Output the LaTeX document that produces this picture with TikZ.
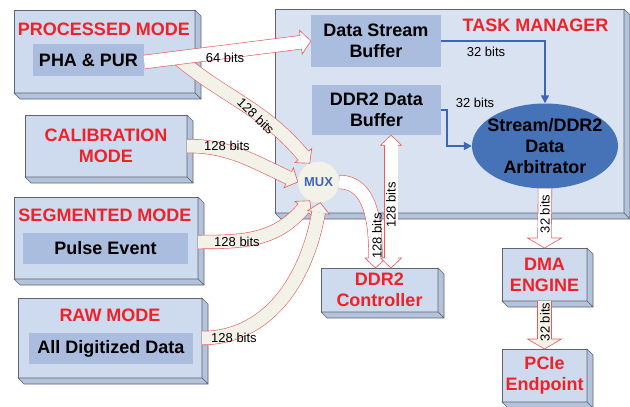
\documentclass[tikz,border=0pt]{standalone}
\usepackage{fontspec}
\setmainfont{Liberation Sans}
\usepackage{xcolor}
\usepackage{tikz}
\usetikzlibrary{arrows.meta, calc, shapes.geometric}

\definecolor{faceblue}{RGB}{206,218,237}
\definecolor{sideblue}{RGB}{180,195,220}
\definecolor{tmblue}{RGB}{216,226,240}
\definecolor{innerblue}{RGB}{170,189,222}
\definecolor{edgegray}{RGB}{95,100,112}
\definecolor{titlered}{RGB}{238,34,40}
\definecolor{arrowred}{RGB}{236,90,90}
\definecolor{cream}{RGB}{242,242,233}
\definecolor{arbblue}{RGB}{70,114,184}
\definecolor{lineblue}{RGB}{62,102,184}

\newcommand\bigbold{\bfseries\fontsize{18}{21}\selectfont}
\newcommand\boxdepth[1]{%
  \filldraw[sideface] (#1.north east) -- ++(6,-6) -- ($(#1.south east)+(6,-6)$) -- (#1.south east) -- cycle;
  \filldraw[sideface] (#1.south west) -- ++(6,-6) -- ($(#1.south east)+(6,-6)$) -- (#1.south east) -- cycle;}
\newcommand\fathead[4]{%
  \filldraw[arrowedge, fill=#4, shift={(#1)}, rotate=#2]
    (-10,6.8) -- (-10,#3) -- (0,0) -- (-10,-#3) -- (-10,-6.8);}

\begin{document}
\begin{tikzpicture}[x=1pt, y=1pt,
  modebox/.style={draw=edgegray, line width=0.7pt, fill=faceblue, inner sep=0pt, outer sep=0pt},
  sideface/.style={draw=edgegray, line width=0.7pt, fill=sideblue, line join=round},
  innerbox/.style={fill=innerblue, inner sep=0pt, font=\bigbold, align=center},
  redtitle/.style={text=titlered, font=\bigbold, align=center, inner sep=0pt},
  arrowedge/.style={draw=arrowred, line width=0.6pt, line join=miter},
  fatshaft/.style={draw=arrowred, line width=0.6pt, double=#1, double distance=13pt},
  bluearrow/.style={draw=lineblue, line width=1.6pt, -{Triangle[length=8pt, width=8pt]}},
  bitlabel/.style={font=\fontsize{13}{15}\selectfont, inner sep=0pt}]
\path[use as bounding box, fill=white] (0,0) rectangle (630,-407);

% task manager
\node[modebox, fill=tmblue, minimum width=349pt, minimum height=204pt] (tm) at (449.5,-111) {};
\boxdepth{tm}
\node[redtitle] (tmT) at (535.5,-25) {TASK MANAGER};
\node[innerbox, minimum width=130pt, minimum height=52pt] (dsb) at (376,-41) {Data Stream\\Buffer};
\node[innerbox, minimum width=129pt, minimum height=50pt] (ddb) at (376.5,-110) {DDR2 Data\\Buffer};
\node[ellipse, fill=arbblue, minimum width=146pt, minimum height=85pt, inner sep=0pt] (arb) at (545,-146) {};
\node[font=\bigbold, align=center, inner sep=0pt] (arbT) at (arb) {Stream/DDR2\\Data\\Arbitrator};
\node[circle, fill=cream, minimum size=41pt, inner sep=0pt, text=lineblue,
  font=\bfseries\fontsize{13}{15}\selectfont] (mux) at (318.5,-182) {MUX};

% modes
\node[modebox, minimum width=181pt, minimum height=83pt] (proc) at (104.5,-51.5) {};
\boxdepth{proc}
\node[redtitle] (procT) at (104,-29) {PROCESSED MODE};
\node[innerbox, minimum width=111pt, minimum height=32pt] (pha) at (88.5,-60) {PHA \& PUR};

\node[modebox, redtitle, minimum width=162pt, minimum height=62pt] (cal) at (106,-146) {CALIBRATION\\MODE};
\boxdepth{cal}

\node[modebox, minimum width=184pt, minimum height=82pt] (seg) at (106,-238) {};
\boxdepth{seg}
\node[redtitle] (segT) at (105,-215) {SEGMENTED MODE};
\node[innerbox, minimum width=165pt, minimum height=31pt] (pulse) at (105.5,-248.5) {Pulse Event};

\node[modebox, minimum width=184pt, minimum height=80pt] (raw) at (110,-338) {};
\boxdepth{raw}
\node[redtitle] (rawT) at (110,-315) {RAW MODE};
\node[innerbox, minimum width=164pt, minimum height=31pt] (alldata) at (111,-348.5) {All Digitized Data};

% outside blocks
\node[modebox, redtitle, minimum width=117pt, minimum height=44pt] (ctrl) at (379.5,-290) {DDR2\\Controller};
\boxdepth{ctrl}
\node[modebox, redtitle, minimum width=85pt, minimum height=53pt] (dma) at (544.5,-274.5) {DMA\\ENGINE};
\boxdepth{dma}
\node[modebox, redtitle, minimum width=85pt, minimum height=53pt] (pcie) at (544.5,-375.5) {PCIe\\Endpoint};
\boxdepth{pcie}

% fat arrows into the mux
\coordinate (phaout) at ([yshift=-2pt]pha.east);
\coordinate (phasplit) at ($(phaout)!0.2!(dsb.west)$);
\draw[fatshaft=cream] (phasplit) to[out=-40, in=130] ($(mux.115)+(130:10)$);
\fathead{mux.115}{-50}{11}{cream}
\draw[fatshaft=cream] (cal.east) to[out=0, in=155] ($(mux.west)+(155:10)$);
\fathead{mux.west}{-25}{11}{cream}
\draw[fatshaft=cream] ([yshift=-4pt]seg.east) to[out=0, in=230] ($(mux.245)+(230:10)$);
\fathead{mux.245}{50}{11}{cream}
\draw[fatshaft=cream] (raw.east) to[out=0, in=260] ($(mux.275)+(260:10)$);
\fathead{mux.275}{80}{11}{cream}

\draw[fatshaft=white] (phaout) -- ($(dsb.west)!10pt!(phaout)$);
\fathead{dsb.west}{6.5}{12}{white}

% mux and ddr2
\coordinate (ctrlin) at ([xshift=-4pt]ctrl.north);
\draw[fatshaft=white] (mux.east) to[out=0, in=90] ($(ctrlin)+(0,10)$);
\fathead{ctrlin}{-90}{10.5}{white}
\coordinate (ddrtop) at ([xshift=14.5pt]ddb.south);
\coordinate (ddrbot) at (ddrtop |- ctrl.north);
\draw[fatshaft=white] ($(ddrtop)+(0,-10)$) -- ($(ddrbot)+(0,10)$);
\fathead{ddrtop}{90}{10.5}{white}
\fathead{ddrbot}{-90}{10.5}{white}

% down to pcie
\draw[fatshaft=white] (arb.south) -- ($(dma.north)+(0,10)$);
\fathead{dma.north}{-90}{17}{white}
\draw[fatshaft=cream] (dma.south) -- ($(pcie.north)+(0,10)$);
\fathead{pcie.north}{-90}{17}{cream}

\draw[bluearrow] (dsb.east) -| (arb.north);
\draw[bluearrow] (ddb.east) -- ++(6,0) |- (arb.west);

% bit widths
\node[bitlabel] (l64) at (225,-58) {64 bits};
\node[bitlabel, rotate=-44] (lpha) at (256,-116) {128 bits};
\node[bitlabel] (lcal) at (227,-146) {128 bits};
\node[bitlabel] (lseg) at (237,-242) {128 bits};
\node[bitlabel] (lraw) at (234,-338) {128 bits};
\node[bitlabel, rotate=90] (lmux) at (377,-236) {128 bits};
\node[bitlabel, rotate=90] (lddr) at (391,-205) {128 bits};
\node[bitlabel, rotate=90] (ldma) at (545,-214) {32 bits};
\node[bitlabel, rotate=90] (lpcie) at (545,-322) {32 bits};
\node[bitlabel] (lsb) at (486,-52) {32 bits};
\node[bitlabel] (ldb) at (475,-103) {32 bits};
\end{tikzpicture}
\end{document}
